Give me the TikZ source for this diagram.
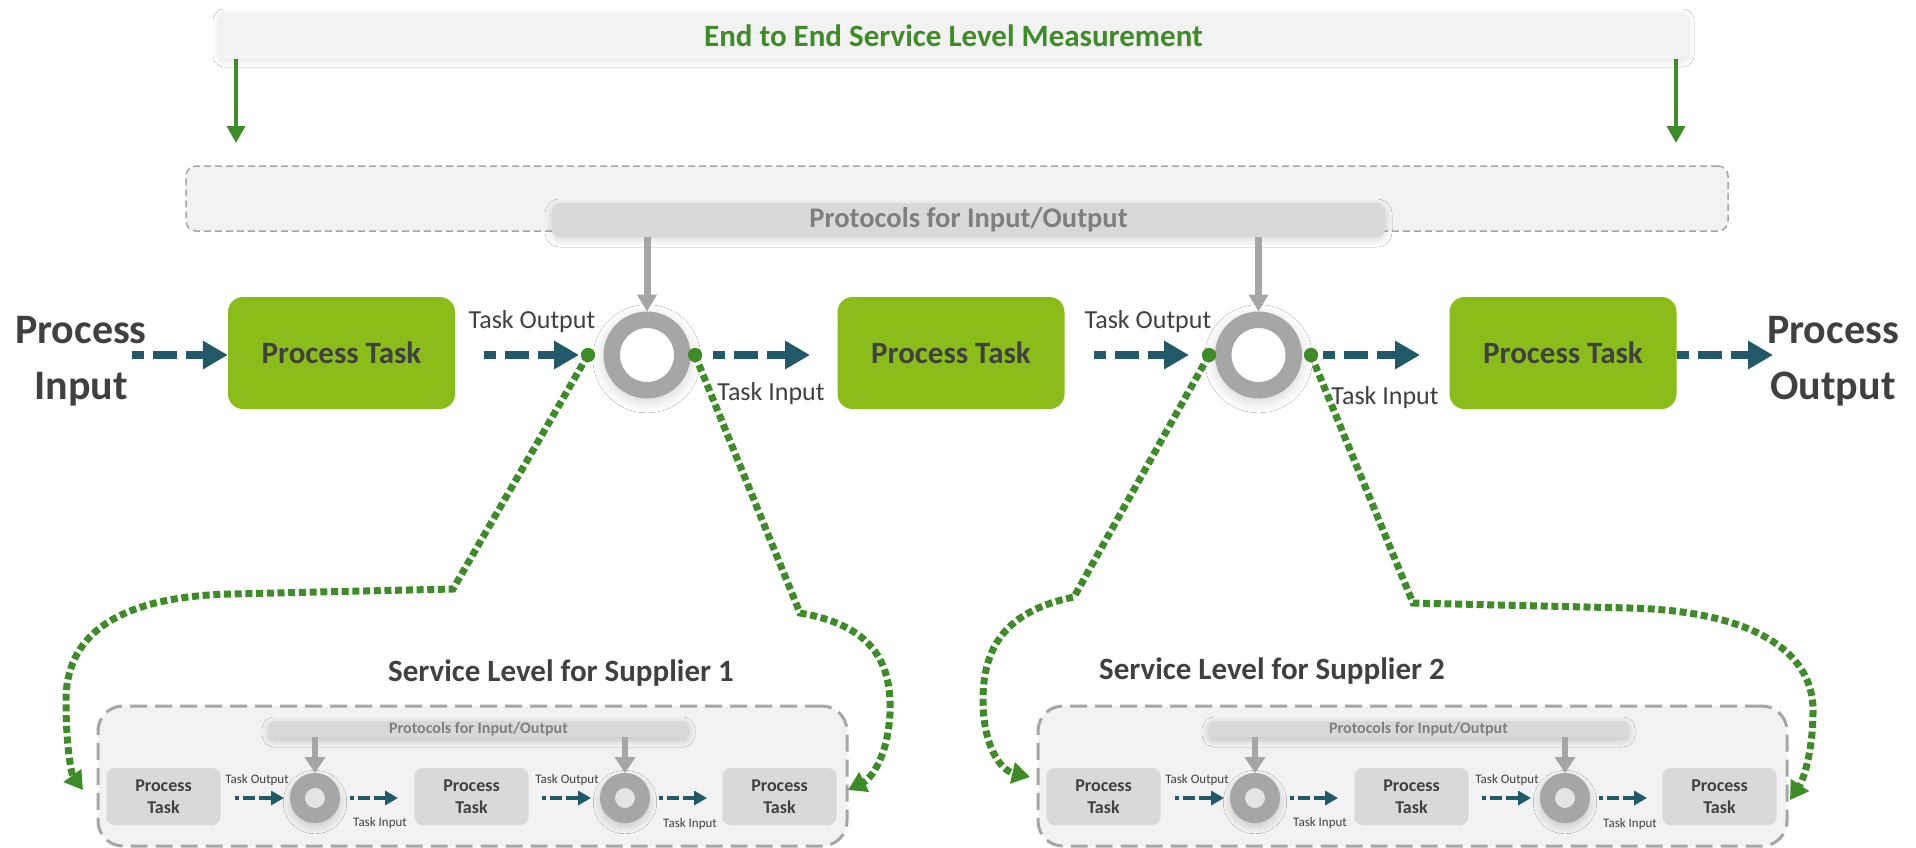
\documentclass[tikz,border=0pt]{standalone}
\usepackage{fontspec}
\setmainfont{Carlito}
\usetikzlibrary{arrows.meta,shadows.blur}
\definecolor{tgreen}{RGB}{62,140,40}
\definecolor{boxgreen}{RGB}{139,189,26}
\definecolor{arrowteal}{RGB}{33,89,104}
\definecolor{txt}{RGB}{64,64,64}
\definecolor{ringgrey}{RGB}{166,166,166}
\definecolor{bargrey}{RGB}{217,217,217}
\definecolor{bartext}{RGB}{127,127,127}
\definecolor{panelfill}{RGB}{242,242,242}
\definecolor{dashgrey}{RGB}{166,166,166}
\newcommand\fs[2]{\fontsize{#1}{#2}\selectfont}
\newcommand\supplierpanel[2]{%
\begin{scope}[xshift=#2]
\node[panel] (#1panel) at (472.5,776) {};
\node[sprot] (#1prot) at (478.5,729) {Protocols for Input/Output};
\node[sbox] (#1b1) at (163.5,796.5) {Process\\Task};
\node[sbox] (#1b2) at (471.5,796.5) {Process\\Task};
\node[sbox] (#1b3) at (779.5,796.5) {Process\\Task};
\node[sring] (#1r1) at (315,798) {};
\node[sring] (#1r2) at (625,798) {};
\draw[sgrey] (#1r1 |- #1prot.south) -- (#1r1.north);
\draw[sgrey] (#1r2 |- #1prot.south) -- (#1r2.north);
\node[slbl,anchor=base] (#1to1) at (257,783) {Task Output};
\node[slbl,anchor=base] (#1ti1) at (380,826) {Task Input};
\node[slbl,anchor=base] (#1to2) at (567,783) {Task Output};
\node[slbl,anchor=base] (#1ti2) at (690,827) {Task Input};
\coordinate (#1a1s) at (235,798); \coordinate (#1a1e) at (284,798);
\coordinate (#1a2s) at (350,798); \coordinate (#1a2e) at (398,798);
\coordinate (#1a3s) at (542,798); \coordinate (#1a3e) at (591,798);
\coordinate (#1a4s) at (659,798); \coordinate (#1a4e) at (707,798);
\draw[smallarrow] (#1a1s) -- (#1a1e);
\draw[smallarrow] (#1a2s) -- (#1a2e);
\draw[smallarrow] (#1a3s) -- (#1a3e);
\draw[smallarrow] (#1a4s) -- (#1a4e);
\end{scope}}
\begin{document}
\begin{tikzpicture}[x=1pt,y=-1pt,
  topbar/.style={rectangle,rounded corners=5pt,fill=panelfill,minimum width=1469pt,minimum height=46pt,inner sep=0pt,
    text=tgreen,font=\bfseries\fs{31}{37},
    blur shadow={shadow xshift=0pt,shadow yshift=-2pt,shadow blur radius=6pt,shadow blur steps=12,shadow opacity=12}},
  container/.style={rectangle,rounded corners=10pt,fill=panelfill,draw=dashgrey,line width=1.5pt,
    dash pattern=on 7pt off 4pt,minimum width=1542pt,minimum height=65pt,inner sep=0pt},
  protbar/.style={rectangle,rounded corners=8pt,fill=bargrey,minimum width=833pt,minimum height=34pt,inner sep=0pt,
    text=bartext,font=\bfseries\fs{28.5}{34},
    blur shadow={shadow xshift=0pt,shadow yshift=-3pt,shadow blur radius=7pt,shadow blur steps=12,shadow opacity=15}},
  ring/.style={circle,draw=ringgrey,fill=white,line width=16.5pt,minimum size=70.5pt,inner sep=0pt,
    blur shadow={shadow xshift=0pt,shadow yshift=-3pt,shadow scale=1.25,shadow blur radius=8pt,shadow blur steps=12,shadow opacity=15}},
  gbox/.style={rectangle,rounded corners=15pt,fill=boxgreen,minimum width=227pt,minimum height=112pt,inner sep=0pt,
    text=txt,font=\bfseries\fs{31}{37}},
  bigtext/.style={align=center,text=txt,font=\bfseries\fs{42}{56},inner sep=0pt},
  lbl/.style={text=txt,font=\fs{26}{31},inner sep=0pt},
  gdot/.style={circle,fill=tgreen,minimum size=14pt,inner sep=0pt},
  mainarrow/.style={draw=arrowteal,line width=8pt,dash pattern=on 24pt off 9pt,dash phase=12pt,
    -{Triangle[length=25pt,width=27pt]}},
  greendown/.style={draw=tgreen,line width=4pt,-{Triangle[length=17pt,width=18pt]}},
  greyarrow/.style={draw=ringgrey,line width=7pt,-{Triangle[length=17pt,width=19pt]}},
  gdots/.style={draw=tgreen,line width=7pt,dash pattern=on 7pt off 3.7pt,-{Triangle[length=18pt,width=21pt]}},
  ttl/.style={text=txt,font=\bfseries\fs{31}{37},inner sep=0pt},
  panel/.style={rectangle,rounded corners=25pt,fill=panelfill,draw=dashgrey,line width=3pt,
    dash pattern=on 17pt off 8pt,minimum width=749pt,minimum height=140pt,inner sep=0pt},
  sprot/.style={rectangle,rounded corners=5pt,fill=bargrey,minimum width=419pt,minimum height=16pt,inner sep=0pt,
    text=bartext,font=\bfseries\fs{16}{19},
    blur shadow={shadow xshift=0pt,shadow yshift=-3pt,shadow blur radius=7pt,shadow blur steps=12,shadow opacity=20}},
  sbox/.style={rectangle,rounded corners=8pt,fill=bargrey,minimum width=114pt,minimum height=57pt,inner sep=0pt,
    align=center,text=txt,font=\bfseries\fs{18}{22.5}},
  sring/.style={circle,draw=ringgrey,fill=bargrey!70,line width=15pt,minimum size=35pt,inner sep=0pt,
    blur shadow={shadow xshift=0pt,shadow yshift=-3pt,shadow scale=1.35,shadow blur radius=6pt,shadow blur steps=12,shadow opacity=20}},
  sgrey/.style={draw=ringgrey,line width=6pt,-{Triangle[length=16pt,width=20pt]}},
  slbl/.style={text=txt,font=\fs{13}{16},inner sep=0pt},
  smallarrow/.style={draw=arrowteal,line width=4pt,dash pattern=on 12pt off 4pt,dash phase=8pt,
    -{Triangle[length=13pt,width=14pt]}}
]
\useasboundingbox (0,0) rectangle (1916,847);
\begin{scope}
\clip (0,0) rectangle (1916,847);
\fill[white] (0,0) rectangle (1916,847);

% top measurement bar
\node[topbar] (top) at (953.5,36) {End to End Service Level Measurement};
\coordinate (gl) at (236,143);
\coordinate (gr) at (1676,143);
\draw[greendown] (gl |- top.south) -- (gl);
\draw[greendown] (gr |- top.south) -- (gr);

% protocols container
\node[container] (cont) at (957,198.5) {};
\node[protbar] (prot) at (968.5,220) {Protocols for Input/Output};

% rings
\node[ring] (r1) at (647,355) {};
\node[ring] (r2) at (1258.5,355) {};
\draw[greyarrow] (r1 |- prot.south) -- (r1.north);
\draw[greyarrow] (r2 |- prot.south) -- (r2.north);

% process tasks
\node[gbox] (b1) at (341.5,353) {Process Task};
\node[gbox] (b2) at (951,353) {Process Task};
\node[gbox] (b3) at (1563,353) {Process Task};
\node[bigtext] (pin) at (81,361) {Process\\Input};
\node[bigtext] (pout) at (1833,361) {Process\\Output};

% labels
\node[lbl,anchor=base] (to1) at (532,328) {Task Output};
\node[lbl,anchor=base] (ti1) at (771,400) {Task Input};
\node[lbl,anchor=base] (to2) at (1148,328) {Task Output};
\node[lbl,anchor=base] (ti2) at (1385,404) {Task Input};

% main arrows
\coordinate (a1s) at (132,355);
\coordinate (a2s) at (484,355); \coordinate (a2e) at (579,355);
\coordinate (a3s) at (713,355); \coordinate (a3e) at (810,355);
\coordinate (a4s) at (1094,355); \coordinate (a4e) at (1189,355);
\coordinate (a5s) at (1323,355); \coordinate (a5e) at (1420,355);
\coordinate (a6e) at (1773,355);
\draw[mainarrow] (a1s) -- (b1.west |- a1s);
\draw[mainarrow] (a2s) -- (a2e);
\draw[mainarrow] (a3s) -- (a3e);
\draw[mainarrow] (a4s) -- (a4e);
\draw[mainarrow] (a5s) -- (a5e);
\draw[mainarrow] (b3.east |- a6e) -- (a6e);

% supplier panels
\supplierpanel{sa}{0pt}
\supplierpanel{sb}{940pt}
\node[ttl,anchor=base] (t1) at (561,681) {Service Level for Supplier 1};
\node[ttl,anchor=base] (t2) at (1272,679) {Service Level for Supplier 2};

% green dots
\node[gdot] (d1l) at (588,355) {};
\node[gdot] (d1r) at (695,355) {};
\node[gdot] (d2l) at (1209,355) {};
\node[gdot] (d2r) at (1311,355) {};

% dotted green connectors
\coordinate (e1l) at (83,790);
\coordinate (e1r) at (848,790);
\coordinate (e2l) at (1030,777);
\coordinate (e2r) at (1790,800);
\draw[gdots] (d1l.center) -- (453,589) -- (230,594) .. controls (110,597) and (66,640) .. (66,700) .. controls (66,750) and (72,775) .. (e1l);
\draw[gdots] (d1r.center) -- (800,613) .. controls (870,625) and (892,660) .. (890,713) .. controls (888,755) and (872,778) .. (e1r);
\draw[gdots] (d2l.center) -- (1074,597) .. controls (1005,611) and (983,648) .. (983,700) .. controls (983,745) and (1000,770) .. (e2l);
\draw[gdots] (d2r.center) -- (1413,603) -- (1630,608) .. controls (1750,611) and (1813,650) .. (1813,710) .. controls (1813,755) and (1802,782) .. (e2r);
\node[gdot] at (d1l) {};
\node[gdot] at (d1r) {};
\node[gdot] at (d2l) {};
\node[gdot] at (d2r) {};
\end{scope}
\end{tikzpicture}
\end{document}
